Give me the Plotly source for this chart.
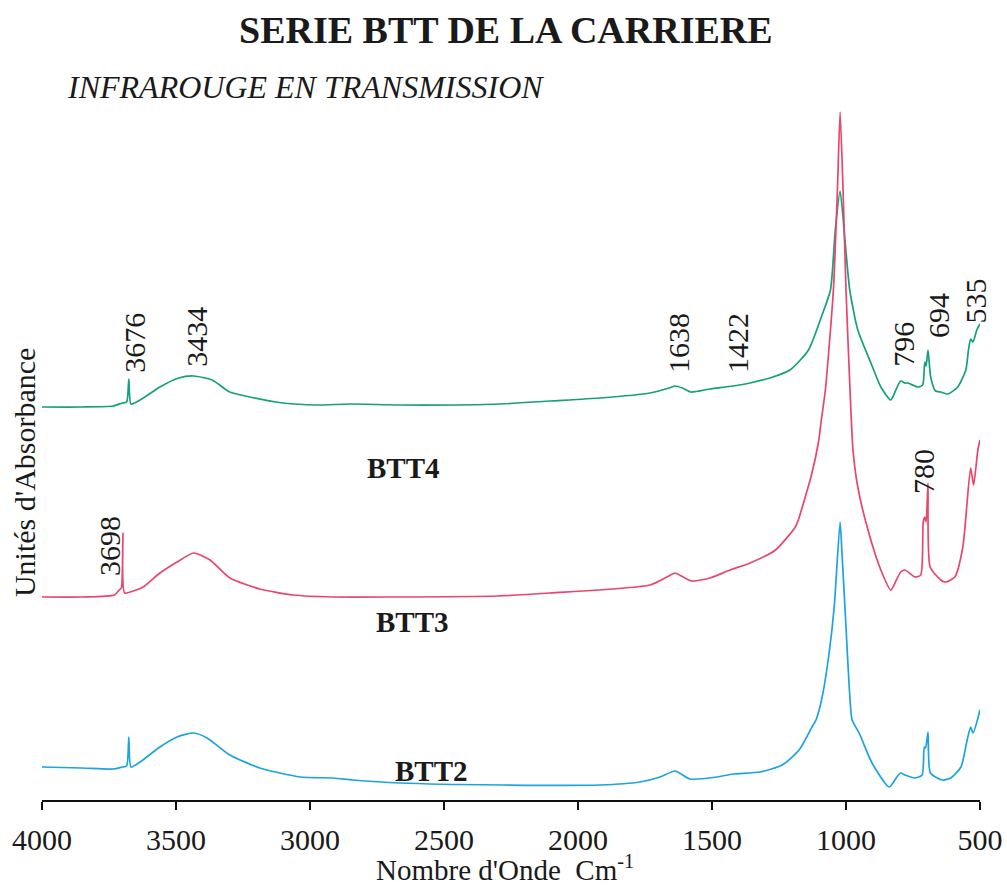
import plotly.graph_objects as go

# ---- IR transmission spectra (wavenumber in cm-1, stacked absorbance in arbitrary units) ----
wn_btt4 = [4000, 3850, 3735, 3700, 3684, 3676, 3668, 3634, 3560, 3490, 3434, 3365, 3300, 3224,
           3101, 2974, 2851, 2660, 2290, 2104, 1918, 1731, 1660, 1638, 1610, 1578, 1507, 1422,
           1358, 1284, 1209, 1140, 1092, 1058, 1040, 1022, 1004, 986, 956, 907, 870, 833, 814,
           796, 780, 769, 732, 714, 706, 701, 694, 684, 666, 646, 620, 583, 553, 543, 535, 526,
           512, 500]
abs_btt4 = [0.786, 0.786, 0.788, 0.794, 0.796, 0.842, 0.792, 0.800, 0.826, 0.844, 0.848, 0.840,
            0.816, 0.806, 0.794, 0.790, 0.792, 0.790, 0.792, 0.798, 0.804, 0.814, 0.824, 0.828,
            0.824, 0.816, 0.822, 0.828, 0.834, 0.844, 0.860, 0.900, 0.966, 1.020, 1.140, 1.218,
            1.120, 1.020, 0.940, 0.874, 0.826, 0.800, 0.820, 0.838, 0.834, 0.834, 0.826, 0.830,
            0.876, 0.868, 0.900, 0.846, 0.818, 0.816, 0.812, 0.826, 0.860, 0.900, 0.922, 0.916,
            0.940, 0.952]

wn_btt3 = [4000, 3850, 3730, 3712, 3704, 3698, 3692, 3660, 3623, 3560, 3496, 3434, 3373, 3299,
           3187, 3063, 2914, 2700, 2300, 2104, 1731, 1668, 1638, 1608, 1575, 1507, 1433, 1358,
           1263, 1189, 1178, 1129, 1103, 1092, 1077, 1047, 1032, 1022, 1011, 1000, 985, 974,
           956, 918, 870, 833, 812, 796, 780, 743, 721, 712, 706, 701, 694, 686, 646, 628, 594,
           564, 535, 524, 508, 500]
abs_btt3 = [0.406, 0.406, 0.410, 0.420, 0.424, 0.534, 0.414, 0.418, 0.426, 0.454, 0.476, 0.494,
            0.480, 0.444, 0.422, 0.410, 0.406, 0.406, 0.408, 0.414, 0.430, 0.446, 0.454, 0.446,
            0.438, 0.444, 0.460, 0.474, 0.500, 0.546, 0.560, 0.650, 0.715, 0.760, 0.820, 1.020,
            1.220, 1.376, 1.220, 1.020, 0.820, 0.700, 0.626, 0.540, 0.460, 0.420, 0.440, 0.456,
            0.460, 0.446, 0.450, 0.556, 0.566, 0.556, 0.634, 0.466, 0.440, 0.436, 0.446, 0.506,
            0.664, 0.630, 0.700, 0.720]

wn_btt2 = [4000, 3850, 3735, 3700, 3684, 3676, 3668, 3634, 3560, 3496, 3434, 3384, 3299, 3187,
           3037, 2914, 2840, 2664, 2290, 1918, 1769, 1694, 1638, 1582, 1481, 1422, 1321, 1238,
           1175, 1127, 1112, 1089, 1063, 1044, 1022, 1015, 1000, 988, 977, 951, 903, 839, 810,
           796, 780, 743, 716, 708, 703, 694, 685, 639, 609, 571, 548, 535, 526, 500]
abs_btt2 = [0.066, 0.064, 0.062, 0.066, 0.068, 0.126, 0.066, 0.076, 0.106, 0.126, 0.134, 0.124,
            0.090, 0.064, 0.046, 0.044, 0.040, 0.034, 0.030, 0.030, 0.036, 0.046, 0.058, 0.042,
            0.046, 0.052, 0.056, 0.070, 0.100, 0.146, 0.160, 0.206, 0.294, 0.386, 0.556, 0.494,
            0.346, 0.226, 0.160, 0.134, 0.074, 0.026, 0.046, 0.054, 0.050, 0.044, 0.050, 0.106,
            0.104, 0.136, 0.054, 0.040, 0.044, 0.066, 0.120, 0.146, 0.134, 0.180]

# ---- band assignments written on the spectra ----
band_values = ["3676", "3434", "1638", "1422", "1022", "796", "694", "535", "3698", "780"]
sample_names = ["BTT4", "BTT3", "BTT2"]
x_ticks = [4000, 3500, 3000, 2500, 2000, 1500, 1000, 500]

SERIF = "Liberation Serif, Times New Roman, serif"
COLORS = {"BTT4": "#16a07a", "BTT3": "#e8466c", "BTT2": "#1ba4de"}

fig = go.Figure()
for name, wn, ab in [("BTT4", wn_btt4, abs_btt4), ("BTT3", wn_btt3, abs_btt3), ("BTT2", wn_btt2, abs_btt2)]:
    fig.add_trace(go.Scatter(x=wn, y=ab, mode="lines", name=name,
                             line=dict(color=COLORS[name], width=1.7, shape="spline", smoothing=0.6),
                             showlegend=False))

# band labels: (text, y, pixel offset from the band position)
band_pos = {"3676": (0.914, 5), "3434": (0.926, 2), "1638": (0.914, 3), "1422": (0.914, 4),
            "1022": (1.458, 5), "796": (0.912, 2), "694": (0.968, 10), "535": (0.998, 4),
            "3698": (0.508, -14), "780": (0.658, 18)}
annotations = []
for txt in band_values:
    y, dx = band_pos[txt]
    annotations.append(dict(x=float(txt), y=y, xref="x", yref="y", text=txt, textangle=-90,
                            showarrow=False, xanchor="center", yanchor="middle", xshift=dx,
                            font=dict(family=SERIF, size=30, color="#1a1a1a")))

name_pos = {"BTT4": (2653, 0.664), "BTT3": (2619, 0.356), "BTT2": (2545, 0.058)}
for nm in sample_names:
    x, y = name_pos[nm]
    annotations.append(dict(x=x, y=y, xref="x", yref="y", text=f"<b>{nm}</b>", showarrow=False,
                            xanchor="center", yanchor="middle",
                            font=dict(family=SERIF, size=29, color="#1a1a1a")))

annotations += [
    dict(x=0.4947, y=1.10, xref="paper", yref="paper", text="<b>SERIE BTT DE LA CARRIERE</b>",
         showarrow=False, xanchor="center", yanchor="middle",
         font=dict(family=SERIF, size=38, color="#1a1a1a")),
    dict(x=0.2804, y=1.0186, xref="paper", yref="paper", text="<i>INFRAROUGE EN TRANSMISSION</i>",
         showarrow=False, xanchor="center", yanchor="middle",
         font=dict(family=SERIF, size=32, color="#1a1a1a")),
    dict(x=0.4936, y=-0.097, xref="paper", yref="paper", text="Nombre d'Onde  Cm<sup>-1</sup>",
         showarrow=False, xanchor="center", yanchor="middle",
         font=dict(family=SERIF, size=29, color="#1a1a1a")),
    dict(x=-0.018, y=0.4686, xref="paper", yref="paper", text="Unités d'Absorbance", textangle=-90,
         showarrow=False, xanchor="center", yanchor="middle",
         font=dict(family=SERIF, size=30, color="#1a1a1a")),
]

fig.update_layout(
    width=1007, height=886,
    margin=dict(l=42, r=27, t=100, b=86, autoexpand=False),
    paper_bgcolor="white", plot_bgcolor="white",
    annotations=annotations,
    xaxis=dict(range=[4000, 500], tickvals=x_ticks, ticktext=[str(v) for v in x_ticks],
               automargin=False,
               showline=True, linecolor="#111111", linewidth=2, ticks="outside", ticklen=8,
               tickwidth=2, tickcolor="#111111", showgrid=False, zeroline=False,
               ticklabelstandoff=4,
               tickfont=dict(family=SERIF, size=30, color="#1a1a1a")),
    yaxis=dict(range=[0, 1.4], visible=False, showgrid=False, zeroline=False, automargin=False),
)

fig.write_html("out.html")
